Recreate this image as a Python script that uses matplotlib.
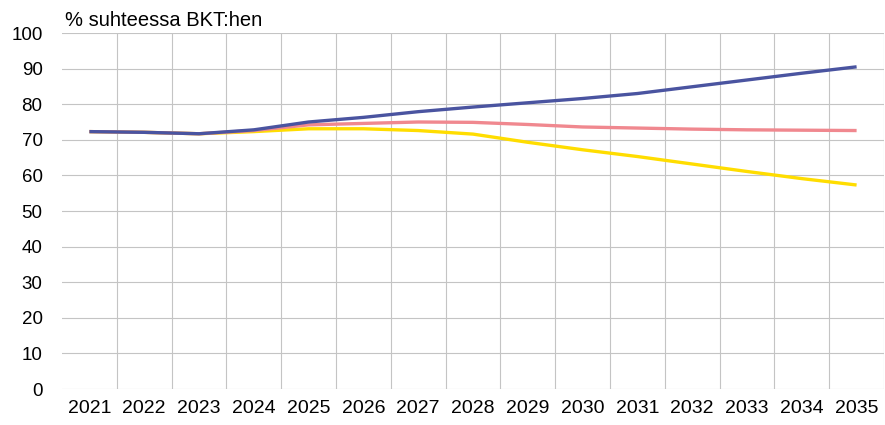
import matplotlib
matplotlib.use("Agg")
import matplotlib.pyplot as plt
import numpy as np

plt.rcParams['font.family'] = ['Liberation Sans', 'DejaVu Sans']

years = [str(y) for y in range(2021, 2036)]
blue = [72.3, 72.1, 71.7, 72.8, 75.0, 76.3, 77.9, 79.2, 80.4, 81.6, 83.0, 84.9, 86.8, 88.7, 90.5]
pink = [72.3, 72.1, 71.7, 72.6, 74.2, 74.6, 75.0, 74.9, 74.3, 73.6, 73.3, 73.0, 72.8, 72.7, 72.6]
yellow = [72.3, 72.1, 71.7, 72.3, 73.1, 73.1, 72.6, 71.6, 69.3, 67.2, 65.3, 63.2, 61.1, 59.1, 57.3]
yticks = list(range(0, 101, 10))
ylabel = "% suhteessa BKT:hen"

fig = plt.figure(figsize=(8.85, 4.25), dpi=100)
ax = fig.add_axes([62/885, 36/425, 822/885, 356/425])

x = np.arange(len(years))
ax.plot(x, yellow, color='#FFDD00', lw=2.4, solid_capstyle='butt', zorder=3)
ax.plot(x, pink, color='#F0888F', lw=2.4, solid_capstyle='butt', zorder=4)
ax.plot(x, blue, color='#4A54A0', lw=2.4, solid_capstyle='butt', zorder=5)

ax.set_xlim(-0.5, len(years) - 0.5)
ax.set_ylim(0, 100)
ax.set_yticks(yticks)
ax.set_yticklabels([str(t) for t in yticks], fontsize=13.5)
ax.set_xticks(x)
ax.set_xticklabels(years, fontsize=14)
ax.tick_params(length=0, pad=8)
ax.tick_params(axis='y', pad=14)

for b in np.arange(0.5, len(years), 1.0):
    ax.axvline(b, color='#C4C4C4', lw=0.8, zorder=1)
for t in yticks:
    ax.axhline(t, color='#C4C4C4', lw=0.8, zorder=1)

for s in ax.spines.values():
    s.set_visible(False)

fig.text(65/885, 1 - 20/425, ylabel, fontsize=14.5, va='center', ha='left')

fig.savefig("out.png", dpi=100)
